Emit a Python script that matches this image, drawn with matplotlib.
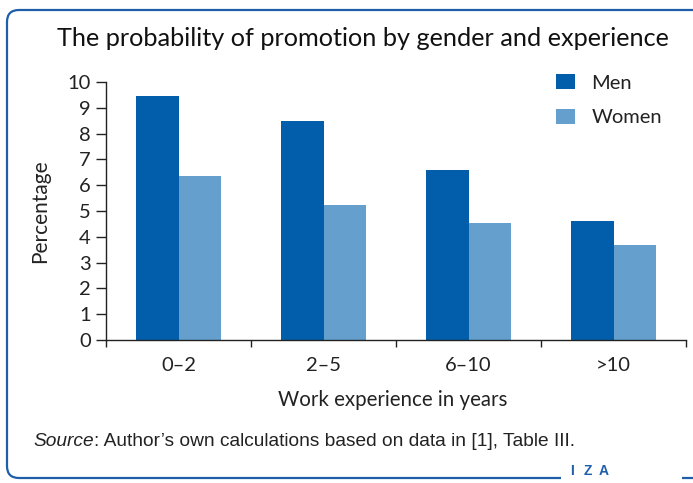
import matplotlib
matplotlib.use("Agg")
import matplotlib.pyplot as plt
import numpy as np
from matplotlib.patches import FancyBboxPatch, Rectangle

categories = ["0–2", "2–5", "6–10", ">10"]
men = [9.45, 8.48, 6.6, 4.63]
women = [6.37, 5.25, 4.52, 3.7]
yticks = list(range(0, 11))

MEN_C = "#025EAB"
WOMEN_C = "#659FCD"
BORDER_C = "#1F5FAA"
TXT = "#222222"
FONT = "Lato"

W, H = 693, 483
fig = plt.figure(figsize=(W / 100, H / 100), dpi=100)

# background frame axes in pixel coordinates
bg = fig.add_axes([0, 0, 1, 1], zorder=0)
bg.set_xlim(0, W)
bg.set_ylim(H, 0)
bg.axis("off")
bg.add_patch(FancyBboxPatch((7, 10), 720, 468, boxstyle="round,pad=0,rounding_size=12",
                            fill=False, edgecolor=BORDER_C, linewidth=1.6))
bg.add_patch(Rectangle((561, 472), 121, 10, facecolor="white", edgecolor="none", zorder=3))
for xx, ch in [(572, "I"), (588, "Z"), (604, "A")]:
    bg.text(xx, 471, ch, color=BORDER_C, fontsize=10, fontweight="bold", family="Liberation Sans",
            ha="center", va="center", zorder=4)

# main axes
left, right = 106 / W, 686 / W
bottom, top = 1 - 340 / H, 1 - 82 / H
ax = fig.add_axes([left, bottom, right - left, top - bottom], zorder=1)
ax.patch.set_alpha(0)

x = np.arange(len(categories))
bw = 0.29
ax.bar(x - bw / 2, men, width=bw, color=MEN_C, label="Men")
ax.bar(x + bw / 2, women, width=bw, color=WOMEN_C, label="Women")

ax.set_xlim(-0.5, len(categories) - 0.5)
ax.set_ylim(0, 10)
ax.set_yticks(yticks)
ax.set_yticklabels([str(v) for v in yticks], fontsize=14.5, family=FONT, color=TXT)
ax.set_xticks(x)
ax.set_xticklabels(categories, fontsize=14.5, family=FONT, color=TXT)
ax.tick_params(axis="x", which="major", length=0, pad=12)
ax.set_xticks(np.arange(-0.5, len(categories)), minor=True)
ax.tick_params(axis="x", which="minor", length=5, width=1, color="#222222", direction="out")
ax.tick_params(axis="y", length=7, width=1, color="#222222", pad=4)

for s in ["top", "right"]:
    ax.spines[s].set_visible(False)
for s in ["left", "bottom"]:
    ax.spines[s].set_color("#222222")
    ax.spines[s].set_linewidth(1)

leg = ax.legend(loc="upper right", bbox_to_anchor=(0.99, 1.10), frameon=False,
                prop={"family": FONT, "size": 14.5}, handlelength=0.95, handleheight=0.75,
                labelspacing=0.85, handletextpad=0.8)
for t in leg.get_texts():
    t.set_color(TXT)

fig.text(363 / W, 1 - 38 / H, "The probability of promotion by gender and experience",
         ha="center", va="center", fontsize=18.2, family=FONT, color="#111111")
fig.text(40 / W, 1 - 211 / H, "Percentage", rotation=90, ha="center", va="center",
         fontsize=15, family=FONT, color=TXT)
fig.text(393 / W, 1 - 400 / H, "Work experience in years", ha="center", va="center",
         fontsize=14.8, family=FONT, color=TXT)
src = fig.text(33 / W, 1 - 441 / H, "Source", ha="left", va="center", fontsize=13.8,
               family="Liberation Sans", style="italic", color=TXT)
fig.canvas.draw()
bb = src.get_window_extent()
fig.text(bb.x1 / W, 1 - 441 / H, ": Author’s own calculations based on data in [1], Table III.",
         ha="left", va="center", fontsize=13.8, family="Liberation Sans", color=TXT)

fig.savefig("out.png", dpi=100)
